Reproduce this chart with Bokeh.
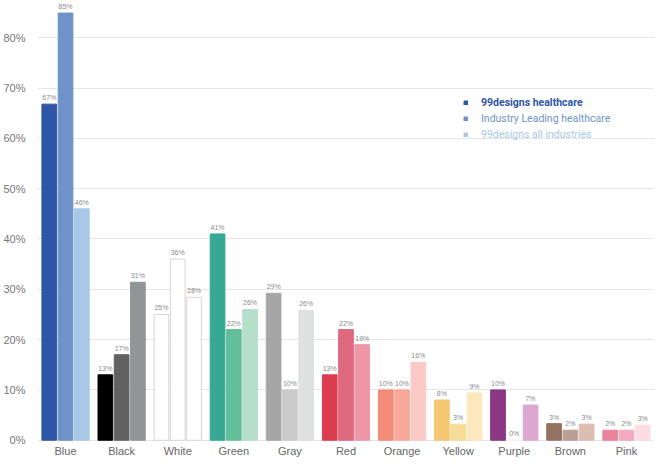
from bokeh.plotting import figure
from bokeh.models import (ColumnDataSource, LabelSet, Range1d, FixedTicker,
                          PrintfTickFormatter, Legend, LegendItem)
from bokeh.core.properties import value
from bokeh.transform import dodge
from bokeh.embed import file_html
from bokeh.resources import INLINE

colors_cat = ["Blue", "Black", "White", "Green", "Gray", "Red", "Orange",
              "Yellow", "Purple", "Brown", "Pink"]
series_names = ["99designs healthcare", "Industry Leading healthcare",
                "99designs all industries"]
healthcare_99 = [66.8, 13, 25, 41, 29.2, 13, 10, 8, 10, 3.3, 2]
industry_leading = [84.9, 17, 36, 22, 10, 22, 10, 3.2, 0, 2, 2]
all_industries_99 = [46, 31.4, 28.4, 26, 25.8, 19, 15.5, 9.4, 7, 3.2, 3]
y_ticks = [0, 10, 20, 30, 40, 50, 60, 70, 80]

fill_1 = ["#2f55a8", "#000000", "#ffffff", "#35a993", "#a6a6a6", "#db3d4f",
          "#f28b78", "#f4c873", "#8c3784", "#957363", "#e8849e"]
fill_2 = ["#6f93c8", "#616161", "#ffffff", "#62bf97", "#c9cac9", "#de687d",
          "#f8a899", "#f6dd97", "#f5f0f4", "#bb9e95", "#f3aac0"]
fill_3 = ["#a8c8e8", "#939496", "#ffffff", "#b5dfc8", "#dfe0e0", "#ef97a8",
          "#fbc9c6", "#fde8bd", "#dca7d0", "#ddbdb2", "#fbdde3"]
legend_colors = ["#2f55a8", "#6f93c8", "#a8c8e8"]

def outline(fills):
    return ["#d6d6d6" if c == "#ffffff" else c for c in fills]

p = figure(x_range=colors_cat, y_range=Range1d(-0.25, 87.4),
           width=654, height=459, output_backend="svg", toolbar_location=None,
           min_border_left=37, min_border_right=0, min_border_top=0,
           min_border_bottom=16)
p.outline_line_color = None
p.background_fill_color = "white"
p.xgrid.grid_line_color = None
p.ygrid.grid_line_color = "#e6e6e6"
p.ygrid.grid_line_width = 1

FONT = "Liberation Sans"
offsets = [-0.29, 0.0, 0.29]
series = [healthcare_99, industry_leading, all_industries_99]
fills = [fill_1, fill_2, fill_3]
renderers = []
for off, vals, fc in zip(offsets, series, fills):
    src = ColumnDataSource(dict(cat=colors_cat, v=vals, fc=fc, lc=outline(fc),
                                lab=[f"{round(v)}%" for v in vals]))
    r = p.vbar(x=dodge("cat", off, range=p.x_range), top="v", bottom=0,
               width=0.262, fill_color="fc", line_color="lc", line_width=1,
               source=src)
    renderers.append(r)
    p.add_layout(LabelSet(x=dodge("cat", off, range=p.x_range), y="v",
                          text="lab", source=src, y_offset=3,
                          text_align="center", text_baseline="bottom",
                          text_font=value(FONT), text_font_size=value("7px"),
                          text_color=value("#8a8a8a")))

# axes
p.yaxis.ticker = FixedTicker(ticks=y_ticks)
p.yaxis.formatter = PrintfTickFormatter(format="%d%%")
p.yaxis.axis_line_color = None
p.yaxis.major_tick_line_color = None
p.yaxis.minor_tick_line_color = None
p.yaxis.major_tick_out = 0
p.yaxis.minor_tick_out = 0
p.yaxis.major_label_standoff = 12
p.yaxis.major_label_text_font = FONT
p.yaxis.major_label_text_font_size = "11px"
p.yaxis.major_label_text_color = "#777777"

p.xaxis.axis_line_color = None
p.xaxis.major_tick_line_color = None
p.xaxis.minor_tick_line_color = None
p.xaxis.major_tick_out = 0
p.xaxis.minor_tick_out = 0
p.xaxis.major_label_standoff = 3
p.xaxis.major_label_text_font = FONT
p.xaxis.major_label_text_font_size = "11px"
p.xaxis.major_label_text_color = "#666666"

# legend: one per series so each label keeps its own colour
legend_y = [332, 316, 300]
for i, (name, col, r) in enumerate(zip(series_names, legend_colors, renderers)):
    lg = Legend(items=[LegendItem(label=name, renderers=[r])],
                location=(426, legend_y[i]),
                glyph_width=5, glyph_height=5, label_standoff=13,
                label_height=12, label_text_color=col,
                label_text_font="Roboto", label_text_font_size="10.5px",
                label_text_font_style="bold" if i == 0 else "normal",
                label_text_baseline="middle",
                padding=0, margin=0, spacing=0,
                background_fill_alpha=0, border_line_alpha=0)
    p.add_layout(lg)

open("out.html", "w").write(file_html(p, INLINE))
